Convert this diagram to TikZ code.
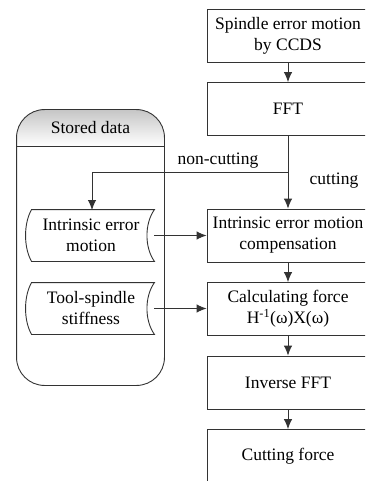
\documentclass[tikz,border=0pt]{standalone}
\usepackage{fontspec}
\setmainfont{Liberation Serif}
\usetikzlibrary{arrows.meta}
\begin{document}
\begin{tikzpicture}[x=1pt,y=-1pt,
  line width=0.9pt,
  every node/.style={font=\fontsize{17.5}{21}\selectfont, align=center, inner sep=0pt},
  procbox/.style={draw=black!80, minimum width=162, minimum height=53},
  docnode/.style={minimum width=126, minimum height=51},
  link/.style={draw=black!80, -{Latex[length=10pt,width=8.5pt]}},
  plain/.style={draw=black!80}]
\useasboundingbox (0,0) rectangle (365,481);
\clip (0,0) rectangle (365,481);
\fill[white] (0,0) rectangle (365,481);

% process chain
\node[procbox] (ccds) at (288,35.5) {Spindle error motion\\by CCDS};
\node[procbox] (fft)  at (288,109) {FFT};
\node[procbox] (comp) at (288,235.5) {Intrinsic error motion\\compensation};
\node[procbox] (calc) at (288,309) {Calculating force\\H\textsuperscript{-1}(ω)X(ω)};
\node[procbox] (ifft) at (288,382.5) {Inverse FFT};
\node[procbox] (cut)  at (288,456) {Cutting force};

% stored data container
\node[minimum width=147, minimum height=275] (store) at (90.5,247.5) {};
\begin{scope}
  \clip[rounded corners=28] (store.south west) rectangle (store.north east);
  \shade[top color=gray!45, bottom color=white] (store.north west) rectangle (store.east |- 0,146);
\end{scope}
\draw[black!80, rounded corners=28] (store.south west) rectangle (store.north east);
\node[minimum width=147, minimum height=36] (title) at (90.5,128) {Stored data};
\draw[plain] (title.south west) -- (title.south east);

% stored data items
\node[docnode] (intr) at (91,235.5) {Intrinsic error\\motion};
\node[docnode] (stiff) at (91,308.5) {Tool-spindle\\stiffness};
\foreach \d in {intr,stiff}{
  \draw[plain] ([xshift=4pt]\d.north west) -- (\d.north east)
    .. controls ([xshift=-10pt,yshift=-14pt]\d.north east) and ([xshift=-10pt,yshift=14pt]\d.south east) .. (\d.south east)
    -- ([xshift=4pt]\d.south west)
    .. controls ([xshift=-4pt,yshift=14pt]\d.south west) and ([xshift=-4pt,yshift=-14pt]\d.north west) .. ([xshift=4pt]\d.north west) -- cycle;
}

% connectors
\draw[link] (ccds) -- (fft);
\draw[link] (fft) -- (comp);
\coordinate (split) at (fft.south |- 0,172);
\draw[link] (split) -- (92,172) -- (92,210);
\draw[link] (intr.east) -- (intr.east -| comp.west);
\draw[link] (stiff.east) -- (stiff.east -| calc.west);
\draw[link] (comp) -- (calc);
\draw[link] (calc) -- (ifft);
\draw[link] (ifft) -- (cut);

% branch labels
\node (nc) at (218,161) {non-cutting};
\node (ct) at (334,181) {cutting};
\end{tikzpicture}
\end{document}
